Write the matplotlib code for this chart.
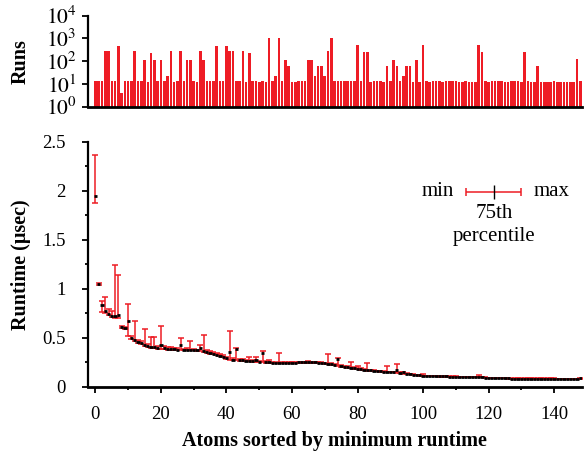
import matplotlib
matplotlib.use("Agg")
import matplotlib.pyplot as plt
import numpy as np
from matplotlib.ticker import MultipleLocator, LogLocator, FixedLocator, FuncFormatter

plt.rcParams['font.family'] = ['Liberation Serif', 'DejaVu Serif']
plt.rcParams['mathtext.fontset'] = 'stix'

# ---- data ----
runs = [13, 13, 13, 268, 268, 13, 13, 485, 4, 13,
        13, 13, 268, 13, 13, 114, 12, 236, 114, 13,
        114, 13, 23, 268, 12, 13, 268, 13, 114, 114,
        13, 12, 268, 114, 13, 13, 13, 485, 13, 13,
        485, 268, 268, 13, 13, 268, 12, 236, 13, 13,
        12, 13, 12, 1030, 13, 23, 1030, 13, 114, 64,
        12, 12, 13, 13, 13, 114, 114, 23, 64, 64,
        23, 268, 1030, 13, 13, 13, 13, 13, 13, 13,
        500, 13, 250, 250, 12, 13, 13, 13, 12, 64,
        13, 115, 64, 13, 23, 64, 64, 12, 115, 12,
        500, 13, 12, 13, 13, 13, 12, 13, 13, 13,
        13, 12, 12, 13, 12, 12, 12, 500, 250, 13,
        12, 13, 13, 13, 13, 12, 12, 13, 13, 13,
        12, 250, 13, 12, 12, 64, 12, 12, 12, 12,
        13, 12, 12, 12, 12, 12, 12, 126, 13]

rt_min = [1.87, 1.04, 0.76, 0.75, 0.73, 0.71, 0.70, 0.70, 0.60, 0.59,
          0.52, 0.49, 0.47, 0.45, 0.44, 0.42, 0.41, 0.40, 0.40, 0.39,
          0.39, 0.39, 0.38, 0.38, 0.38, 0.375, 0.375, 0.37, 0.37, 0.37,
          0.37, 0.365, 0.36, 0.35, 0.34, 0.335, 0.33, 0.32, 0.31, 0.30,
          0.285, 0.275, 0.27, 0.27, 0.265, 0.265, 0.26, 0.26, 0.255, 0.25,
          0.25, 0.25, 0.245, 0.245, 0.24, 0.24, 0.24, 0.24, 0.24, 0.24,
          0.24, 0.24, 0.245, 0.245, 0.245, 0.245, 0.245, 0.245, 0.24, 0.24,
          0.235, 0.23, 0.225, 0.22, 0.21, 0.205, 0.20, 0.195, 0.19, 0.185,
          0.18, 0.175, 0.17, 0.165, 0.162, 0.16, 0.158, 0.155, 0.152, 0.15,
          0.148, 0.146, 0.144, 0.14, 0.135, 0.13, 0.125, 0.12, 0.115, 0.112,
          0.11, 0.108, 0.106, 0.105, 0.105, 0.104, 0.103, 0.103, 0.102, 0.102,
          0.102, 0.101, 0.101, 0.100, 0.100, 0.100, 0.100, 0.100, 0.095, 0.092,
          0.090, 0.089, 0.088, 0.087, 0.086, 0.085, 0.083, 0.082, 0.082, 0.082,
          0.082, 0.082, 0.082, 0.082, 0.082, 0.082, 0.082, 0.082, 0.082, 0.082,
          0.082, 0.081, 0.081, 0.081, 0.080, 0.080, 0.080, 0.080, 0.080]

rt_p75 = [1.95, 1.05, 0.83, 0.77, 0.74, 0.72, 0.72, 0.73, 0.61, 0.60,
          0.67, 0.50, 0.48, 0.46, 0.45, 0.43, 0.42, 0.41, 0.41, 0.40,
          0.43, 0.40, 0.39, 0.39, 0.39, 0.38, 0.43, 0.38, 0.38, 0.38,
          0.38, 0.37, 0.40, 0.36, 0.35, 0.34, 0.335, 0.325, 0.315, 0.305,
          0.29, 0.357, 0.275, 0.387, 0.27, 0.27, 0.265, 0.265, 0.26, 0.27,
          0.255, 0.347, 0.25, 0.25, 0.245, 0.245, 0.245, 0.245, 0.245, 0.245,
          0.245, 0.245, 0.25, 0.25, 0.25, 0.25, 0.25, 0.25, 0.245, 0.245,
          0.24, 0.235, 0.23, 0.225, 0.28, 0.21, 0.205, 0.20, 0.195, 0.19,
          0.185, 0.18, 0.175, 0.17, 0.166, 0.163, 0.16, 0.158, 0.155, 0.153,
          0.151, 0.149, 0.17, 0.143, 0.15, 0.133, 0.128, 0.123, 0.118, 0.115,
          0.113, 0.11, 0.108, 0.107, 0.107, 0.106, 0.105, 0.105, 0.104, 0.104,
          0.104, 0.103, 0.103, 0.102, 0.102, 0.102, 0.102, 0.102, 0.097, 0.094,
          0.092, 0.091, 0.090, 0.089, 0.088, 0.087, 0.085, 0.084, 0.084, 0.084,
          0.084, 0.084, 0.084, 0.084, 0.084, 0.084, 0.084, 0.084, 0.084, 0.084,
          0.084, 0.083, 0.083, 0.083, 0.082, 0.082, 0.082, 0.082, 0.085]

rt_max = [2.36, 1.06, 0.88, 0.92, 0.79, 0.77, 1.24, 1.14, 0.62, 0.61,
          0.84, 0.52, 0.67, 0.48, 0.47, 0.59, 0.44, 0.51, 0.51, 0.42,
          0.62, 0.42, 0.41, 0.41, 0.40, 0.40, 0.50, 0.39, 0.40, 0.47,
          0.39, 0.38, 0.43, 0.53, 0.37, 0.36, 0.355, 0.34, 0.33, 0.32,
          0.30, 0.568, 0.29, 0.40, 0.28, 0.28, 0.27, 0.30, 0.27, 0.30,
          0.26, 0.36, 0.26, 0.27, 0.25, 0.25, 0.345, 0.25, 0.255, 0.25,
          0.25, 0.255, 0.255, 0.255, 0.255, 0.26, 0.255, 0.255, 0.25, 0.25,
          0.245, 0.33, 0.24, 0.235, 0.29, 0.22, 0.215, 0.21, 0.255, 0.20,
          0.215, 0.19, 0.18, 0.245, 0.17, 0.168, 0.165, 0.162, 0.16, 0.215,
          0.155, 0.152, 0.23, 0.147, 0.155, 0.137, 0.13, 0.125, 0.12, 0.118,
          0.13, 0.112, 0.11, 0.109, 0.108, 0.107, 0.106, 0.106, 0.105, 0.105,
          0.105, 0.104, 0.104, 0.103, 0.103, 0.103, 0.103, 0.115, 0.098, 0.095,
          0.093, 0.092, 0.091, 0.090, 0.089, 0.088, 0.086, 0.085, 0.085, 0.085,
          0.085, 0.085, 0.085, 0.085, 0.085, 0.085, 0.085, 0.085, 0.085, 0.085,
          0.085, 0.084, 0.084, 0.084, 0.083, 0.083, 0.083, 0.083, 0.088]

atoms = np.arange(len(runs))
RED = '#EE1C25'
TICK_FS = 13.5
LABEL_FS = 14.5
LEG_FS = 15

fig = plt.figure(figsize=(5.86, 4.55), dpi=100)
ax1 = fig.add_axes([0.150, 0.7655, 0.843, 0.2])
ax2 = fig.add_axes([0.150, 0.150, 0.843, 0.5385])

for ax in (ax1, ax2):
    for s in ('top', 'right'):
        ax.spines[s].set_visible(False)
    ax.spines['left'].set_linewidth(1.6)
    ax.spines['bottom'].set_linewidth(2.0)
    ax.tick_params(which='both', direction='out', width=1.3, labelsize=TICK_FS, colors='black')
    ax.tick_params(which='major', length=4)
    ax.tick_params(which='minor', length=2.5)
    ax.set_xlim(-2.3, 148.5)

# ---- top: runs ----
ax1.bar(atoms, runs, width=0.78, color=RED, edgecolor='none')
ax1.set_yscale('log')
ax1.set_ylim(1, 1e4)
ax1.yaxis.set_major_locator(FixedLocator([1, 10, 100, 1000, 10000]))
ax1.yaxis.set_minor_locator(LogLocator(base=10, subs=np.arange(2, 10)))
ax1.yaxis.set_major_formatter(FuncFormatter(lambda v, p: r'$10^{%d}$' % round(np.log10(v))))
ax1.tick_params(axis='x', which='both', bottom=False, labelbottom=False)
ax1.tick_params(axis='y', which='major', labelsize=15.5, pad=4)
ax1.tick_params(axis='y', which='minor', length=2)
ax1.set_ylabel('Runs', fontsize=LABEL_FS, fontweight='bold')
ax1.yaxis.set_label_coords(-0.115, 0.5)

# ---- bottom: runtime ----
p75 = np.array(rt_p75)
lo = p75 - np.array(rt_min)
hi = np.array(rt_max) - p75
ax2.errorbar(atoms, p75, yerr=[lo, hi], fmt='none', ecolor=RED, elinewidth=1.1,
             capsize=2.3, capthick=1.1, zorder=2)
ax2.errorbar(atoms, p75, xerr=0.5, fmt='none', ecolor='black', elinewidth=2.0,
             capsize=0, zorder=3)
ax2.set_ylim(0, 2.5)
ax2.yaxis.set_major_locator(MultipleLocator(0.5))
ax2.yaxis.set_minor_locator(MultipleLocator(0.25))
ax2.xaxis.set_major_locator(MultipleLocator(20))
ax2.xaxis.set_minor_locator(MultipleLocator(10))
ax2.yaxis.set_major_formatter(FuncFormatter(lambda v, p: f'{v:g}'))
ax2.tick_params(axis='y', which='major', pad=12)
ax2.tick_params(axis='x', which='major', pad=10)
ax2.set_xlabel('Atoms sorted by minimum runtime', fontsize=LABEL_FS, fontweight='bold')
ax2.xaxis.set_label_coords(0.5, -0.182)
ax2.set_ylabel('Runtime (\u03bcsec)', fontsize=LABEL_FS, fontweight='bold')
ax2.yaxis.set_label_coords(-0.115, 0.5)

# ---- legend key ----
tr = ax2.transAxes
ax2.errorbar([0.822], [0.795], xerr=[[0.056], [0.055]], fmt='none', ecolor=RED,
             elinewidth=1.1, capsize=3, capthick=1.1, transform=tr, clip_on=False)
ax2.errorbar([0.822], [0.795], yerr=0.03, fmt='none', ecolor='black',
             elinewidth=1.0, capsize=0, transform=tr, clip_on=False)
ax2.text(0.741, 0.795, 'min', transform=tr, ha='right', va='center', fontsize=LEG_FS)
ax2.text(0.903, 0.795, 'max', transform=tr, ha='left', va='center', fontsize=LEG_FS)
ax2.text(0.822, 0.708, '75th', transform=tr, ha='center', va='center', fontsize=LEG_FS)
ax2.text(0.822, 0.615, 'percentile', transform=tr, ha='center', va='center', fontsize=LEG_FS)

fig.savefig('out.png', dpi=100)
